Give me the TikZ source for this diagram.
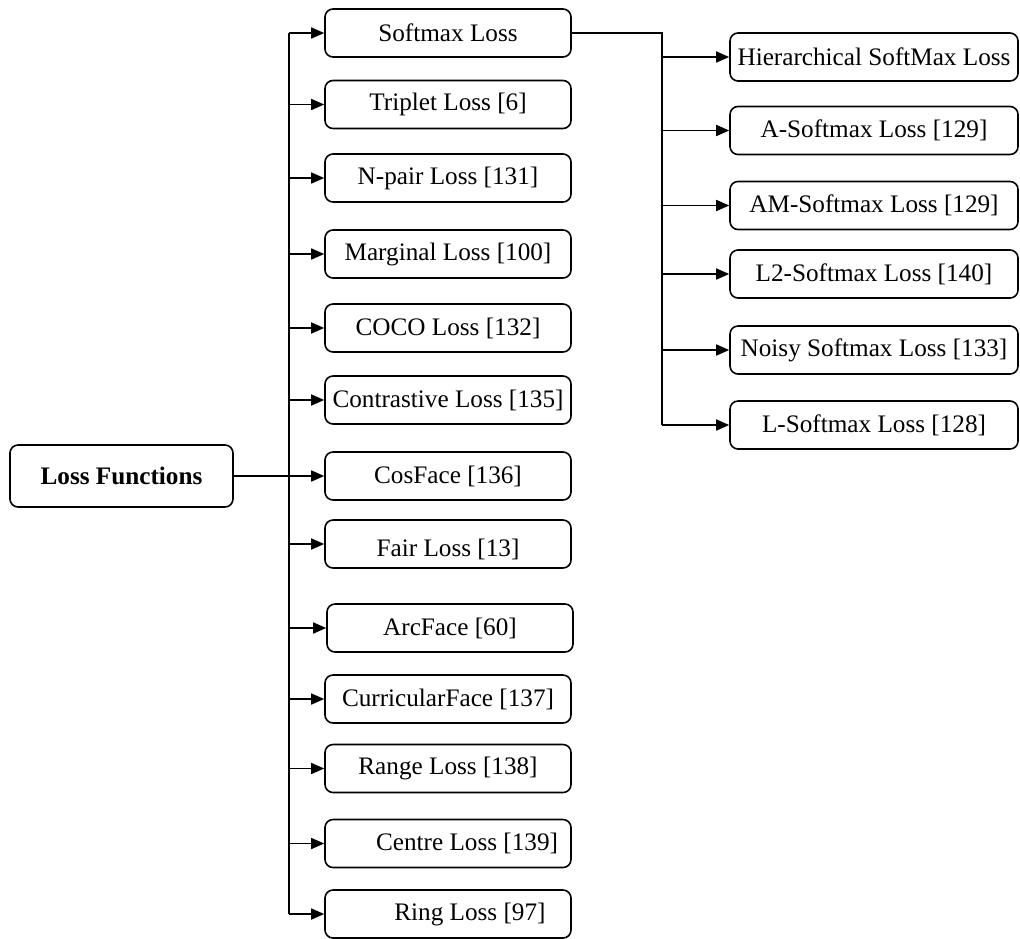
\documentclass[tikz,border=0pt]{standalone}
\usepackage{fontspec}
\setmainfont{Liberation Serif}
\usetikzlibrary{arrows.meta}

\begin{document}
\begin{tikzpicture}[x=0.5pt, y=-0.5pt, >={Triangle[length=6.5pt,width=5.5pt]}, line width=0.8pt,
    box/.style={draw, rounded corners=4pt, minimum height=24pt, inner sep=0pt, font=\fontsize{12.6}{15}\selectfont},
    mid/.style={box, minimum width=123pt},
    sub/.style={box, minimum width=144pt}]
    \useasboundingbox (0,0) rectangle (1020,938);
    \coordinate (T) at (289,0);
    \coordinate (B) at (662,0);

    % Root
    \node[box, minimum width=111.5pt, minimum height=31pt, font=\fontsize{12.6}{15}\selectfont\bfseries] (lf) at (121.5,476) {Loss Functions};

    % Loss boxes
    \node[mid] (sm) at (448,33) {Softmax Loss};
    \node[mid] (tri) at (448,104.5) {Triplet Loss [6]};
    \node[mid] (np) at (448,178) {N-pair Loss [131]};
    \node[mid] (mar) at (448,254) {Marginal Loss [100]};
    \node[mid] (coco) at (448,328) {COCO Loss [132]};
    \node[mid] (con) at (448,400) {Contrastive Loss [135]};
    \node[mid] (cos) at (448,476) {CosFace [136]};
    \node[mid] (fair) at (448,544) {\raisebox{-2.5pt}[\height][\depth]{Fair Loss [13]}};
    \node[mid] (arc) at (450,628) {ArcFace [60]};
    \node[mid] (cur) at (448,699) {CurricularFace [137]};
    \node[mid] (rng) at (448,768.5) {Range Loss [138]};
    \node[mid] (cen) at (448,843.5) {\hspace*{19pt}Centre Loss [139]};
    \node[mid] (ring) at (448,914) {\hspace*{22pt}Ring Loss [97]};

    % Softmax variants
    \node[sub] (hier) at (874,57) {Hierarchical SoftMax Loss};
    \node[sub] (asm) at (874,130.5) {A-Softmax Loss [129]};
    \node[sub] (amsm) at (874,205.5) {AM-Softmax Loss [129]};
    \node[sub] (ltwo) at (874,274) {L2-Softmax Loss [140]};
    \node[sub] (noisy) at (874,350) {Noisy Softmax Loss [133]};
    \node[sub] (lsm) at (874,425) {L-Softmax Loss [128]};

    % Trunk
    \draw (T |- sm.west) -- (T |- ring.west);
    \foreach \n in {sm,tri,np,mar,coco,con,fair,arc,cur,rng,cen,ring}
        \draw[->] (T |- \n.west) -- (\n.west);
    \draw[->] (lf) -- (cos);

    % Softmax branch
    \draw (sm.east) -- (B |- sm.east) -- (B |- lsm.west);
    \foreach \n in {hier,asm,amsm,ltwo,noisy,lsm}
        \draw[->] (B |- \n.west) -- (\n.west);
\end{tikzpicture}
\end{document}
